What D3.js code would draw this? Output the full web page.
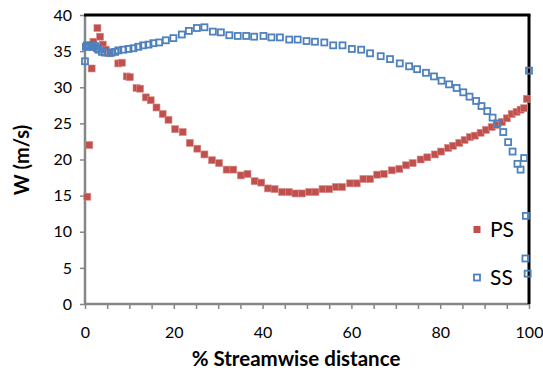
<!DOCTYPE html>
<html><head><meta charset="utf-8">
<script src="https://cdn.jsdelivr.net/npm/d3@7"></script>
<style>body{margin:0;background:#fff}svg{display:block}text{font-family:Lato,"Open Sans",sans-serif}</style>
</head><body>
<svg id="c" width="543" height="376"></svg>
<script>
const psX = [0.52,0.97,1.5,1.9,2.8,3.4,4.0,4.7,5.6,7.5,8.3,9.4,10.1,11.6,12.4,13.7,14.8,16.1,17.5,18.8,20.3,22.0,23.6,25.3,26.9,28.6,30.2,31.9,33.4,35.1,36.6,38.2,39.7,41.2,42.7,44.4,45.9,47.4,48.9,50.5,51.9,53.5,55.0,56.5,57.9,59.7,61.2,62.7,64.2,65.8,67.3,69.1,70.8,72.3,73.8,75.6,77.1,78.8,80.2,81.8,82.9,84.3,85.5,86.7,87.8,89.1,90.3,91.6,92.7,93.9,95.0,96.1,97.2,98.1,98.9,99.5];
const psW = [14.85,22.0,32.6,36.3,38.2,37.0,35.9,35.2,34.7,33.3,33.4,31.5,31.4,29.9,29.8,28.6,28.2,27.2,26.3,25.5,24.2,23.8,22.3,21.5,20.7,19.9,19.5,18.6,18.6,17.8,18.0,17.0,16.8,16.0,15.9,15.5,15.5,15.3,15.3,15.5,15.5,15.9,15.9,16.2,16.2,16.7,16.7,17.3,17.3,17.9,18.0,18.5,18.7,19.2,19.5,20.0,20.3,20.7,21.1,21.6,21.9,22.3,22.7,23.1,23.3,23.7,24.1,24.5,24.8,25.2,25.7,26.3,26.6,26.9,27.1,28.4];
const ssX = [0,0.2,0.45,0.9,1.35,1.8,2.25,2.7,3.0,3.8,4.5,5.2,6.0,6.8,7.5,8.6,9.8,10.9,12.0,13.1,14.3,15.4,16.7,18.2,19.9,21.8,23.4,25.2,26.9,28.8,30.6,32.5,34.4,36.3,38.1,40.2,42.0,43.9,46.0,47.9,49.9,51.8,53.9,55.9,58.0,60.1,62.2,64.2,66.6,68.7,70.9,73.0,74.8,76.8,78.6,80.3,82.0,83.7,85.2,86.6,88.1,89.3,90.6,91.8,92.9,94.2,95.3,96.3,97.4,98.1,98.9,99.3,99.2,99.7,100];
const ssW = [33.6,35.6,35.8,35.6,35.8,35.6,35.7,35.4,35.2,34.9,34.8,34.8,34.8,34.9,35.1,35.2,35.3,35.4,35.6,35.8,35.9,36.1,36.2,36.5,36.8,37.3,37.8,38.2,38.3,37.7,37.6,37.2,37.1,37.1,37.0,37.1,36.9,36.9,36.6,36.6,36.4,36.3,36.2,35.8,35.8,35.3,35.2,34.7,34.3,33.9,33.3,32.9,32.5,32.0,31.5,30.9,30.4,29.9,29.3,28.7,28.1,27.4,26.7,25.8,25.0,23.8,22.4,21.1,19.4,18.6,20.2,12.2,6.3,4.2,32.3];
const xTicks = [0,20,40,60,80,100];
const yTicks = [0,5,10,15,20,25,30,35,40];
const seriesNames = ["PS","SS"];

const svg = d3.select("#c");
const L = 85, R = 529, T = 15, B = 304;
const x = d3.scaleLinear().domain([0,100]).range([L,R]);
const y = d3.scaleLinear().domain([0,40]).range([B,T]);

// y axis
const yAx = svg.append("g").attr("transform",`translate(${L},0)`)
  .call(d3.axisLeft(y).tickValues(yTicks).tickSize(5).tickPadding(8));
yAx.select(".domain").remove();
yAx.selectAll("line").attr("stroke","#868686").attr("stroke-width",1.5);
yAx.selectAll("text").attr("font-size",16).attr("fill","#000");

// x axis minor ticks
const xAx = svg.append("g").attr("transform",`translate(0,${B})`)
  .call(d3.axisBottom(x).tickValues(d3.range(0,101,5)).tickSize(5).tickFormat(""));
xAx.select(".domain").remove();
xAx.selectAll("line").attr("stroke","#868686").attr("stroke-width",1.5);
const xLab = svg.append("g").attr("transform",`translate(0,${B})`)
  .call(d3.axisBottom(x).tickValues(xTicks).tickSize(0).tickPadding(23));
xLab.select(".domain").remove();
xLab.selectAll("text").attr("font-size",16).attr("fill","#000");

// frame
svg.append("line").attr("x1",L).attr("x2",L).attr("y1",T).attr("y2",B+1).attr("stroke","#868686").attr("stroke-width",2.5);
svg.append("line").attr("x1",L).attr("x2",R).attr("y1",B).attr("y2",B).attr("stroke","#868686").attr("stroke-width",2.5);
svg.append("line").attr("x1",L-1).attr("x2",R+1.5).attr("y1",T).attr("y2",T).attr("stroke","#000").attr("stroke-width",3);
svg.append("line").attr("x1",R).attr("x2",R).attr("y1",T).attr("y2",B).attr("stroke","#000").attr("stroke-width",3);

// PS
svg.append("g").selectAll("rect").data(psX.map((d,i)=>[d,psW[i]])).join("rect")
  .attr("x",d=>x(d[0])-3.5).attr("y",d=>y(d[1])-3.5).attr("width",7).attr("height",7)
  .attr("fill","#C0504D").attr("stroke","#D98C8A").attr("stroke-width",0.6);
// SS
svg.append("g").selectAll("rect").data(ssX.map((d,i)=>[d,ssW[i]])).join("rect")
  .attr("x",d=>x(d[0])-3).attr("y",d=>y(d[1])-3).attr("width",6).attr("height",6)
  .attr("fill","none").attr("stroke","#4F81BD").attr("stroke-width",1.8);

// legend
const lg = svg.append("g");
lg.append("rect").attr("x",473.5).attr("y",226).attr("width",7).attr("height",7).attr("fill","#C0504D");
lg.append("rect").attr("x",474).attr("y",274.5).attr("width",6).attr("height",6).attr("fill","none").attr("stroke","#4F81BD").attr("stroke-width",1.8);
lg.append("text").attr("x",490).attr("y",237).attr("font-size",21).text(seriesNames[0]);
lg.append("text").attr("x",490).attr("y",285).attr("font-size",21).text(seriesNames[1]);

// titles
svg.append("text").attr("x",296).attr("y",366).attr("text-anchor","middle").attr("font-size",20.5).attr("font-weight","bold").text("% Streamwise distance");
svg.append("text").attr("transform","translate(29,160) rotate(-90)").attr("text-anchor","middle").attr("font-size",20).attr("font-weight","bold").text("W (m/s)");
</script>
</body></html>
